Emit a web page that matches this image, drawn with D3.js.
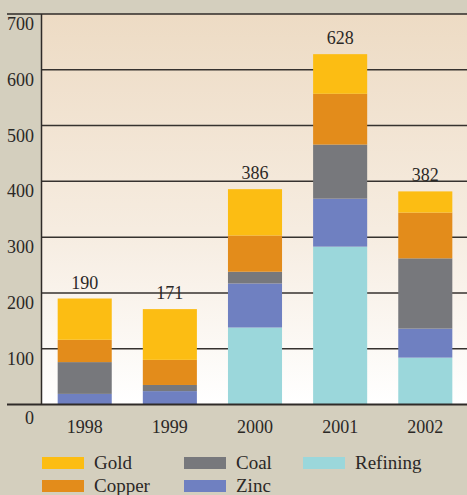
<!DOCTYPE html>
<html>
  <head>
    <meta charset="utf-8" />
    <script src="https://d3js.org/d3.v7.min.js"></script>
    <style>
        body { margin: 0; background: #d4cfbe; }
        svg text { font-family: "Liberation Serif", serif; fill: #2b2826; }
    </style>
  </head>
  <body>
    <svg id="chart" width="467" height="495"></svg>

    <script>
        // values (bottom to top in each bar)
        var years = ["1998", "1999", "2000", "2001", "2002"];
        var refining = [0, 0, 138, 283, 84];
        var zinc = [19, 24, 79, 86, 52];
        var coal = [57, 11, 21, 97, 126];
        var copper = [40, 45, 65, 91, 82];
        var gold = [74, 91, 83, 71, 38];
        var yTicks = [0, 100, 200, 300, 400, 500, 600, 700];

        var keys = ["Refining", "Zinc", "Coal", "Copper", "Gold"];
        var colors = {
            Gold: "#fcbd13",
            Copper: "#e38c1b",
            Coal: "#77787c",
            Zinc: "#6f80c1",
            Refining: "#9bd7db"
        };

        var rows = years.map(function(y, i) {
            return {year: y, Refining: refining[i], Zinc: zinc[i], Coal: coal[i], Copper: copper[i], Gold: gold[i]};
        });

        var svg = d3.select("#chart");

        // note: "top" is taken by window.top, so use other names
        var plotLeft = 41.5, plotRight = 468.5, plotTop = 14, plotBottom = 404.5;

        var x = d3.scaleBand()
            .domain(years)
            .range([plotLeft, plotRight])
            .paddingInner(0.365)
            .paddingOuter(0.19);

        var y = d3.scaleLinear()
            .domain([0, 700])
            .range([plotBottom, plotTop]);

        // plot background gradient
        var grad = svg.append("defs").append("linearGradient")
            .attr("id", "bg")
            .attr("x1", 0).attr("y1", 0).attr("x2", 0).attr("y2", 1);
        grad.append("stop").attr("offset", "0%").attr("stop-color", "#eddbc4");
        grad.append("stop").attr("offset", "55%").attr("stop-color", "#f6ece0");
        grad.append("stop").attr("offset", "100%").attr("stop-color", "#ffffff");

        svg.append("rect")
            .attr("x", plotLeft).attr("y", plotTop)
            .attr("width", 467 - plotLeft).attr("height", plotBottom - plotTop)
            .attr("fill", "url(#bg)");

        // gridlines
        svg.append("g").selectAll("line")
            .data(yTicks.filter(function(t) { return t > 0 && t < 700; }))
            .enter().append("line")
            .attr("x1", plotLeft).attr("x2", 467)
            .attr("y1", function(d) { return y(d); })
            .attr("y2", function(d) { return y(d); })
            .attr("stroke", "#36322f")
            .attr("stroke-width", 1.5);

        // stacked bars
        var series = d3.stack().keys(keys)(rows);

        svg.append("g").selectAll("g")
            .data(series)
            .enter().append("g")
            .attr("fill", function(d) { return colors[d.key]; })
            .selectAll("rect")
            .data(function(d) { return d; })
            .enter().append("rect")
            .attr("x", function(d) { return x(d.data.year); })
            .attr("width", x.bandwidth())
            .attr("y", function(d) { return y(d[1]); })
            .attr("height", function(d) { return y(d[0]) - y(d[1]); });

        // totals
        svg.append("g").selectAll("text")
            .data(rows)
            .enter().append("text")
            .attr("x", function(d) { return x(d.year) + x.bandwidth() / 2; })
            .attr("y", function(d) { return y(d3.sum(keys, function(k) { return d[k]; })) - 10; })
            .attr("text-anchor", "middle")
            .attr("font-size", 18)
            .text(function(d) { return d3.sum(keys, function(k) { return d[k]; }); });

        // frame lines
        svg.append("line")
            .attr("x1", 7).attr("x2", 467).attr("y1", plotTop).attr("y2", plotTop)
            .attr("stroke", "#2f2b28").attr("stroke-width", 1.5);
        svg.append("line")
            .attr("x1", plotLeft).attr("x2", plotLeft).attr("y1", plotTop).attr("y2", plotBottom)
            .attr("stroke", "#2f2b28").attr("stroke-width", 1.5);
        svg.append("line")
            .attr("x1", 7).attr("x2", 467).attr("y1", plotBottom).attr("y2", plotBottom)
            .attr("stroke", "#2f2b28").attr("stroke-width", 2);

        // y tick labels (sit just under their gridline)
        svg.append("g").selectAll("text")
            .data(yTicks)
            .enter().append("text")
            .attr("x", 34)
            .attr("y", function(d) { return y(d) + (d === 0 ? 19 : 16); })
            .attr("text-anchor", "end")
            .attr("font-size", 18)
            .text(function(d) { return d; });

        // x labels
        svg.append("g").selectAll("text")
            .data(years)
            .enter().append("text")
            .attr("x", function(d) { return x(d) + x.bandwidth() / 2; })
            .attr("y", 433)
            .attr("text-anchor", "middle")
            .attr("font-size", 18)
            .text(function(d) { return d; });

        // legend, column by column
        var legendOrder = ["Gold", "Copper", "Coal", "Zinc", "Refining"];
        var legendX = [42, 184, 303];

        var legend = svg.append("g").selectAll("g")
            .data(legendOrder)
            .enter().append("g")
            .attr("transform", function(d, i) {
                return "translate(" + legendX[Math.floor(i / 2)] + "," + (457 + (i % 2) * 23) + ")";
            });

        legend.append("rect")
            .attr("width", 42).attr("height", 12)
            .attr("fill", function(d) { return colors[d]; });

        legend.append("text")
            .attr("x", 52).attr("y", 12)
            .attr("font-size", 19)
            .text(function(d) { return d; });
    </script>
  </body>
</html>
